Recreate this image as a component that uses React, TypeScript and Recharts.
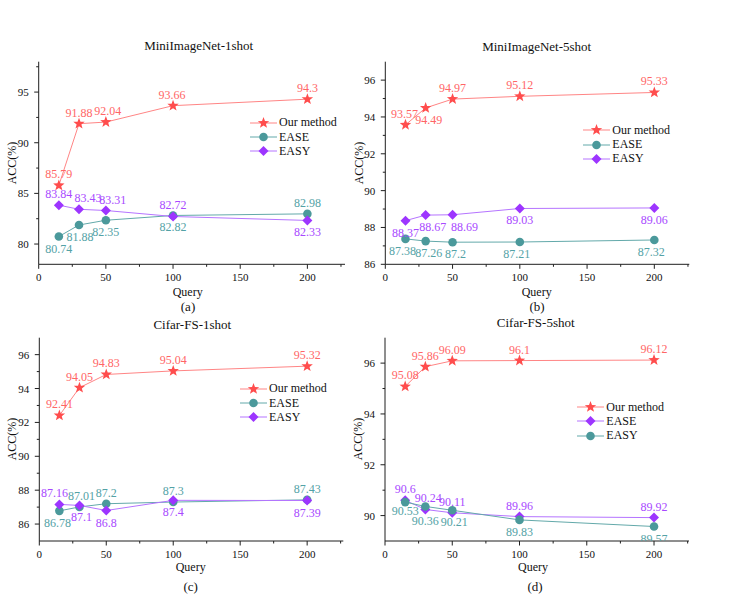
import React from "react";
import { LineChart, Line, XAxis, YAxis } from "recharts";

const FONT = '"Liberation Serif", "DejaVu Serif", serif';
const AXIS = "#1f1f1f";
const TOP_AXIS = "#8c8c8c";

const queries = [15, 30, 50, 100, 200];

// (a) MiniImageNet-1shot
const miniOneOurs = [85.79, 91.88, 92.04, 93.66, 94.3];
const miniOneEase = [80.74, 81.88, 82.35, 82.82, 82.98];
const miniOneEasy = [83.84, 83.43, 83.31, 82.72, 82.33];

// (b) MiniImageNet-5shot
const miniFiveOurs = [93.57, 94.49, 94.97, 95.12, 95.33];
const miniFiveEase = [87.38, 87.26, 87.2, 87.21, 87.32];
const miniFiveEasy = [88.37, 88.67, 88.69, 89.03, 89.06];

// (c) Cifar-FS-1shot
const cifarOneOurs = [92.41, 94.05, 94.83, 95.04, 95.32];
const cifarOneEase = [86.78, 87.01, 87.2, 87.3, 87.43];
const cifarOneEasy = [87.16, 87.1, 86.8, 87.4, 87.39];

// (d) Cifar-FS-5shot
const cifarFiveOurs = [95.08, 95.86, 96.09, 96.1, 96.12];
const cifarFiveEase = [90.6, 90.24, 90.11, 89.96, 89.92];
const cifarFiveEasy = [90.53, 90.36, 90.21, 89.83, 89.57];

// axis ticks
const xTicks = [0, 25, 50, 75, 100, 125, 150, 175, 200, 225];
const xLabels = [0, 50, 100, 150, 200];

const miniOneYTicks = [80, 82.5, 85, 87.5, 90, 92.5, 95, 97.5];
const miniOneYLabels = [80, 85, 90, 95];
const miniOneRight = [79, 80, 81, 82, 83, 84, 85, 86, 87, 88, 89, 90, 91, 92, 93, 94, 95, 96, 97];

const miniFiveYTicks = [86, 87, 88, 89, 90, 91, 92, 93, 94, 95, 96];
const miniFiveYLabels = [86, 88, 90, 92, 94, 96];
const miniFiveRight = [86, 87, 88, 89, 90, 91, 92, 93, 94, 95, 96, 97];

const cifarOneYTicks = [86, 87, 88, 89, 90, 91, 92, 93, 94, 95, 96];
const cifarOneYLabels = [86, 88, 90, 92, 94, 96];
const cifarOneRight = [85, 86, 87, 88, 89, 90, 91, 92, 93, 94, 95, 96, 97];

const cifarFiveYTicks = [90, 91, 92, 93, 94, 95, 96];
const cifarFiveYLabels = [90, 92, 94, 96];
const cifarFiveRight = [89, 90, 91, 92, 93, 94, 95, 96, 97];

// where each value label sits: t = above, b = below, then x shift, "/" extra y shift
const miniOneOursSpots = ["t", "t", "t+2", "t-1", "t"];
const miniOneEaseSpots = ["b", "b+1", "b", "b", "t"];
const miniOneEasySpots = ["t", "t+9", "t+7", "t", "b"];
const miniFiveOursSpots = ["t-1", "b+3", "t", "t", "t"];
const miniFiveEaseSpots = ["b-3", "b+3", "b+3", "b-3", "b-3"];
const miniFiveEasySpots = ["b", "b+7", "b+12", "b", "b"];
const cifarOneOursSpots = ["t", "t", "t", "t", "t"];
const cifarOneEaseSpots = ["b-2", "t+2", "t", "t", "t"];
const cifarOneEasySpots = ["t-5", "b+2", "b", "b", "b"];
const cifarFiveOursSpots = ["t", "t", "t", "t", "t"];
const cifarFiveEaseSpots = ["t", "t+3", "t", "t", "t"];
const cifarFiveEasySpots = ["b/-3", "b/3", "b+2", "b", "b"];

type Style = { line: string; mark: string; text: string; shape: string };
const red: Style = { line: "#ff8585", mark: "#ff4d4d", text: "#ff6666", shape: "star" };
const teal: Style = { line: "#63a9aa", mark: "#4b999b", text: "#53a2a6", shape: "circle" };
const purple: Style = { line: "#b574ff", mark: "#9d35ff", text: "#a849ff", shape: "diamond" };

function Marker({ shape, cx, cy, color }: { shape: string; cx: number; cy: number; color: string }) {
  if (shape === "circle") return <circle cx={cx} cy={cy} r={4.3} fill={color} />;
  if (shape === "diamond")
    return <polygon points={`${cx},${cy - 5} ${cx + 5},${cy} ${cx},${cy + 5} ${cx - 5},${cy}`} fill={color} />;
  const pts: string[] = [];
  for (let i = 0; i < 10; i++) {
    const r = i % 2 === 0 ? 6 : 2.5;
    const a = -Math.PI / 2 + (i * Math.PI) / 5;
    pts.push(`${cx + r * Math.cos(a)},${cy + r * Math.sin(a)}`);
  }
  return <polygon points={pts.join(" ")} fill={color} />;
}

const makeDot = (key: string, style: Style, spots: string[]) => (p: any) => {
  const { cx, cy, index, payload } = p;
  if (cx == null || cy == null) return <g key={`${key}-${index}`} />;
  const [head, extra] = (spots[index] || "t").split("/");
  const below = head[0] === "b";
  const dx = Number(head.slice(1)) || 0;
  const dy = Number(extra) || 0;
  return (
    <g key={`${key}-${index}`}>
      <Marker shape={style.shape} cx={cx} cy={cy} color={style.mark} />
      <text
        x={cx + dx}
        y={(below ? cy + 16 : cy - 7) + dy}
        textAnchor="middle"
        fontSize={12}
        style={{ fontFamily: FONT }}
        fill={style.text}
      >
        {payload[key]}
      </text>
    </g>
  );
};

const bottomTick = (p: any) => {
  const { x, y, payload } = p;
  const major = xLabels.includes(payload.value);
  return (
    <g>
      <line x1={x} x2={x} y1={y} y2={y + (major ? 4.5 : 2.5)} stroke={AXIS} />
      {major && (
        <text x={x} y={y + 17} textAnchor="middle" fontSize={11} style={{ fontFamily: FONT }} fill="#111">
          {payload.value}
        </text>
      )}
    </g>
  );
};

const topTick = (p: any) => {
  const { x, y, payload } = p;
  const major = xLabels.includes(payload.value);
  return <line x1={x} x2={x} y1={y} y2={y + (major ? 4 : 2.5)} stroke={TOP_AXIS} />;
};

const leftTick = (labels: number[]) => (p: any) => {
  const { x, y, payload } = p;
  const major = labels.includes(payload.value);
  return (
    <g>
      <line x1={x} x2={x - (major ? 4.5 : 2.5)} y1={y} y2={y} stroke={AXIS} />
      {major && (
        <text x={x - 10} y={y + 4} textAnchor="end" fontSize={11} style={{ fontFamily: FONT }} fill="#111">
          {payload.value}
        </text>
      )}
    </g>
  );
};

const rightTick = (p: any) => {
  const { x, y } = p;
  return <line x1={x} x2={x + 3} y1={y} y2={y} stroke={AXIS} />;
};

type Series = { key: string; name: string; values: number[]; style: Style; spots: string[] };
type Cfg = {
  box: { left: number; top: number; w: number; h: number };
  plot: { x0: number; x1: number; y0: number; y1: number };
  xMax: number;
  yDomain: [number, number];
  yTicks: number[];
  yLabels: number[];
  rightTicks: number[];
  series: Series[];
  title: string;
  caption: string;
  titlePos: [number, number];
  accPos: [number, number];
  queryPos: [number, number];
  captionPos: [number, number];
  legendPos: [number, number];
};

function Txt({ at, size, children, rotate }: { at: [number, number]; size: number; children: any; rotate?: boolean }) {
  return (
    <div
      style={{
        position: "absolute",
        left: at[0],
        top: at[1],
        transform: `translate(-50%, -50%)${rotate ? " rotate(-90deg)" : ""}`,
        fontSize: size,
        fontFamily: FONT,
        whiteSpace: "nowrap",
        lineHeight: 1,
        color: "#111",
      }}
    >
      {children}
    </div>
  );
}

function LegendBox({ at, series }: { at: [number, number]; series: Series[] }) {
  return (
    <>
      {series.map((s, i) => (
        <div
          key={s.key}
          style={{
            position: "absolute",
            left: at[0],
            top: at[1] + i * 14.3 - 7,
            height: 14,
            display: "flex",
            alignItems: "center",
            fontFamily: FONT,
            fontSize: 12,
            color: "#111",
            whiteSpace: "nowrap",
          }}
        >
          <svg width={27} height={14} style={{ display: "block" }}>
            <line x1={0} x2={27} y1={7} y2={7} stroke={s.style.line} strokeWidth={1} />
            <Marker shape={s.style.shape} cx={13.5} cy={7} color={s.style.mark} />
          </svg>
          <span style={{ marginLeft: 2 }}>{s.name}</span>
        </div>
      ))}
    </>
  );
}

function Panel({ cfg }: { cfg: Cfg }) {
  const { box, plot } = cfg;
  const data = queries.map((q, i) => {
    const row: any = { q };
    cfg.series.forEach((s) => (row[s.key] = s.values[i]));
    return row;
  });
  const xAxisH = 20;
  const margin = {
    top: plot.y0 - box.top,
    right: box.left + box.w - plot.x1,
    bottom: box.top + box.h - plot.y1 - xAxisH,
    left: 0,
  };
  return (
    <>
      <div style={{ position: "absolute", left: box.left, top: box.top, width: box.w, height: box.h }}>
        <LineChart width={box.w} height={box.h} data={data} margin={margin} style={{ fontFamily: FONT }}>
          <XAxis
            xAxisId="b"
            dataKey="q"
            type="number"
            domain={[0, cfg.xMax]}
            allowDataOverflow
            ticks={xTicks}
            interval={0}
            height={xAxisH}
            tickSize={0}
            tickMargin={0}
            tickLine={false}
            axisLine={{ stroke: AXIS }}
            tick={bottomTick}
          />
          <XAxis
            xAxisId="t"
            orientation="top"
            type="number"
            domain={[0, cfg.xMax]}
            allowDataOverflow
            ticks={xTicks}
            interval={0}
            height={0}
            tickSize={0}
            tickMargin={0}
            tickLine={false}
            axisLine={{ stroke: TOP_AXIS }}
            tick={topTick}
          />
          <YAxis
            yAxisId="l"
            type="number"
            domain={cfg.yDomain}
            allowDataOverflow
            ticks={cfg.yTicks}
            interval={0}
            width={plot.x0 - box.left}
            tickSize={0}
            tickMargin={0}
            tickLine={false}
            axisLine={{ stroke: AXIS }}
            tick={leftTick(cfg.yLabels)}
          />
          <YAxis
            yAxisId="r"
            orientation="right"
            type="number"
            domain={cfg.yDomain}
            allowDataOverflow
            ticks={cfg.rightTicks}
            interval={0}
            width={0}
            tickSize={0}
            tickMargin={0}
            tickLine={false}
            axisLine={{ stroke: AXIS }}
            tick={rightTick}
          />
          {cfg.series.map((s) => (
            <Line
              key={s.key}
              xAxisId="b"
              yAxisId="l"
              type="linear"
              dataKey={s.key}
              stroke={s.style.line}
              strokeWidth={1}
              dot={makeDot(s.key, s.style, s.spots)}
              activeDot={false}
              isAnimationActive={false}
            />
          ))}
        </LineChart>
      </div>
      <Txt at={cfg.titlePos} size={13}>{cfg.title}</Txt>
      <Txt at={cfg.accPos} size={12} rotate>ACC(%)</Txt>
      <Txt at={cfg.queryPos} size={12}>Query</Txt>
      <Txt at={cfg.captionPos} size={13}>{cfg.caption}</Txt>
      <LegendBox at={cfg.legendPos} series={cfg.series} />
    </>
  );
}

const panels: Cfg[] = [
  {
    box: { left: 0, top: 0, w: 370, h: 305 },
    plot: { x0: 38.7, x1: 345, y0: 61.7, y1: 264.3 },
    xMax: 228,
    yDomain: [78, 98],
    yTicks: miniOneYTicks,
    yLabels: miniOneYLabels,
    rightTicks: miniOneRight,
    series: [
      { key: "ours", name: "Our method", values: miniOneOurs, style: red, spots: miniOneOursSpots },
      { key: "ease", name: "EASE", values: miniOneEase, style: teal, spots: miniOneEaseSpots },
      { key: "easy", name: "EASY", values: miniOneEasy, style: purple, spots: miniOneEasySpots },
    ],
    title: "MiniImageNet-1shot",
    caption: "(a)",
    titlePos: [198.7, 45],
    accPos: [12, 163],
    queryPos: [187.7, 291.5],
    captionPos: [188, 305.5],
    legendPos: [250, 122.7],
  },
  {
    box: { left: 350, top: 0, w: 397, h: 305 },
    plot: { x0: 385.3, x1: 689.3, y0: 61.7, y1: 264.3 },
    xMax: 226,
    yDomain: [86, 97],
    yTicks: miniFiveYTicks,
    yLabels: miniFiveYLabels,
    rightTicks: miniFiveRight,
    series: [
      { key: "ours", name: "Our method", values: miniFiveOurs, style: red, spots: miniFiveOursSpots },
      { key: "ease", name: "EASE", values: miniFiveEase, style: teal, spots: miniFiveEaseSpots },
      { key: "easy", name: "EASY", values: miniFiveEasy, style: purple, spots: miniFiveEasySpots },
    ],
    title: "MiniImageNet-5shot",
    caption: "(b)",
    titlePos: [536.7, 45.7],
    accPos: [359, 163],
    queryPos: [536.7, 292],
    captionPos: [537, 305.6],
    legendPos: [583.3, 130.3],
  },
  {
    box: { left: 0, top: 305, w: 370, h: 297 },
    plot: { x0: 39.3, x1: 343.3, y0: 337.7, y1: 541 },
    xMax: 227,
    yDomain: [85, 97],
    yTicks: cifarOneYTicks,
    yLabels: cifarOneYLabels,
    rightTicks: cifarOneRight,
    series: [
      { key: "ours", name: "Our method", values: cifarOneOurs, style: red, spots: cifarOneOursSpots },
      { key: "ease", name: "EASE", values: cifarOneEase, style: teal, spots: cifarOneEaseSpots },
      { key: "easy", name: "EASY", values: cifarOneEasy, style: purple, spots: cifarOneEasySpots },
    ],
    title: "Cifar-FS-1shot",
    caption: "(c)",
    titlePos: [192.3, 324.3],
    accPos: [12, 439.3],
    queryPos: [190.7, 566.7],
    captionPos: [190.7, 586],
    legendPos: [240, 388.7],
  },
  {
    box: { left: 350, top: 305, w: 397, h: 297 },
    plot: { x0: 385, x1: 689, y0: 337.7, y1: 541 },
    xMax: 226,
    yDomain: [89, 97],
    yTicks: cifarFiveYTicks,
    yLabels: cifarFiveYLabels,
    rightTicks: cifarFiveRight,
    series: [
      { key: "ours", name: "Our method", values: cifarFiveOurs, style: red, spots: cifarFiveOursSpots },
      { key: "ease", name: "EASE", values: cifarFiveEase, style: purple, spots: cifarFiveEaseSpots },
      { key: "easy", name: "EASY", values: cifarFiveEasy, style: teal, spots: cifarFiveEasySpots },
    ],
    title: "Cifar-FS-5shot",
    caption: "(d)",
    titlePos: [535.7, 322.3],
    accPos: [358, 439.3],
    queryPos: [533, 566.7],
    captionPos: [535, 586],
    legendPos: [577.3, 407],
  },
];

export default function App() {
  return (
    <div
      style={{
        position: "fixed",
        left: 0,
        top: 0,
        width: 747,
        height: 602,
        background: "#fff",
        overflow: "hidden",
        fontFamily: FONT,
      }}
    >
      {panels.map((p) => (
        <Panel key={p.caption} cfg={p} />
      ))}
    </div>
  );
}
